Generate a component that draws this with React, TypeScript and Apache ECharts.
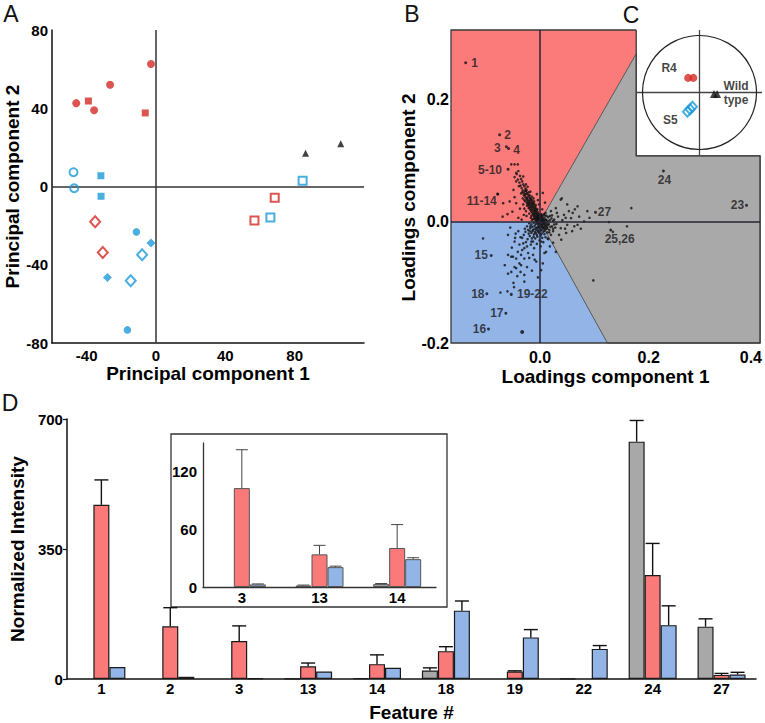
import React, { useEffect, useRef } from 'react';
import * as echarts from 'echarts';

const FONT = '"Liberation Sans", Arial, Helvetica, sans-serif';
const RED = '#d42a24';
const BLUE = '#1b9ad8';
const REGION_RED = '#fb7b7b';
const REGION_BLUE = '#93b4e6';
const REGION_GRAY = '#a9a9a9';
const BAR_GRAY = '#a8a8a8';
const BAR_RED = '#fa7a7a';
const BAR_BLUE = '#92b4e6';

// ---------- Panel A: PCA scores ----------
const pcaTicksX = [-40, 0, 40, 80];
const pcaTicksY = [-80, -40, 0, 40, 80];
const pcaRedCircle = [[-46, 42.6], [-26.5, 52], [-35.7, 39], [-2.9, 62.6]];
const pcaRedSquare = [[-39, 43.7], [-6.2, 37.6]];
const pcaBlueOpenCircle = [[-47.6, 7.3], [-47.2, -0.9]];
const pcaBlueSquare = [[-31.8, 5.5], [-31.7, -5]];
const pcaRedOpenDiamond = [[-35.1, -18], [-30.7, -33.7]];
const pcaBlueCircle = [[-11.3, -23.2], [-16.5, -73.3]];
const pcaBlueDiamond = [[-2.9, -28.9], [-28, -46.5]];
const pcaBlueOpenDiamond = [[-8, -34.9], [-14.6, -48.2]];
const pcaBlackTriangle = [[86.3, 17], [106.6, 21.9]];
const pcaBlueOpenSquare = [[84.6, 2.9], [66, -15.9]];
const pcaRedOpenSquare = [[68.5, -5.8], [56.8, -17.4]];

// ---------- Panel B: loadings ----------
const loadTicksX = [0, 0.2, 0.4];
const loadTicksY = [-0.2, 0, 0.2];
const regionRed = [[-0.164, 0], [-0.164, 0.315], [0.177, 0.315], [0.177, 0.276], [0, 0]];
const regionBlue = [[-0.164, 0], [0, 0], [0.124, -0.2], [-0.164, -0.2]];
const regionGray = [[0, 0], [0.177, 0.276], [0.177, 0.108], [0.405, 0.108], [0.405, -0.2], [0.124, -0.2]];
const loadFrame = [[0.177, 0.315], [-0.164, 0.315], [-0.164, -0.2], [0.405, -0.2], [0.405, 0.108], [0.177, 0.108], [0.177, 0.315]];

const cloudUpper = [
  [-0.043, 0.078], [-0.040, 0.083], [-0.037, 0.075], [-0.041, 0.069], [-0.035, 0.070], [-0.038, 0.064], [-0.033, 0.066],
  [-0.036, 0.059], [-0.031, 0.061], [-0.034, 0.055], [-0.029, 0.058], [-0.032, 0.051], [-0.027, 0.054], [-0.030, 0.047],
  [-0.026, 0.050], [-0.028, 0.044], [-0.024, 0.047], [-0.027, 0.040], [-0.022, 0.044], [-0.025, 0.037], [-0.021, 0.041],
  [-0.023, 0.034], [-0.019, 0.038], [-0.022, 0.031], [-0.018, 0.035], [-0.020, 0.029], [-0.016, 0.032], [-0.019, 0.026],
  [-0.015, 0.029], [-0.017, 0.023], [-0.013, 0.027], [-0.016, 0.020], [-0.012, 0.024], [-0.014, 0.018], [-0.010, 0.021],
  [-0.013, 0.015], [-0.009, 0.018], [-0.011, 0.013], [-0.007, 0.016], [-0.010, 0.010], [-0.006, 0.013], [-0.008, 0.008],
  [-0.004, 0.011], [-0.007, 0.005], [-0.003, 0.008], [-0.005, 0.003], [-0.002, 0.006], [-0.026, 0.061], [-0.033, 0.048],
  [-0.018, 0.049], [-0.039, 0.058], [-0.023, 0.057], [-0.015, 0.041], [-0.029, 0.035], [-0.011, 0.033], [-0.021, 0.022],
  [-0.044, 0.066], [-0.047, 0.073], [-0.031, 0.074], [-0.024, 0.026], [-0.008, 0.027], [-0.012, 0.038], [-0.005, 0.020],
  [-0.078, 0.045], [-0.068, 0.030], [-0.056, 0.033], [-0.044, 0.030], [-0.069, 0.008], [-0.053, 0.094], [-0.047, 0.094],
  [-0.041, 0.094], [-0.044, 0.080], [-0.049, 0.052], [-0.060, 0.012], [-0.051, 0.016], [-0.037, 0.021], [-0.047, 0.040],
  [-0.006, 0.045], [0.005, 0.047], [0.009, 0.031], [0.004, 0.020], [-0.002, 0.028], [0.007, 0.012], [0.003, 0.010],
  [-0.030, 0.011], [-0.040, 0.006], [-0.034, 0.003], [-0.025, 0.009], [-0.017, 0.006], [-0.020, 0.013], [-0.004, 0.035],
];
const cloudDense = [
  [-0.028, 0.050], [-0.025, 0.052], [-0.030, 0.043], [-0.024, 0.039], [-0.021, 0.048], [-0.026, 0.045], [-0.019, 0.043],
  [-0.023, 0.036], [-0.027, 0.033], [-0.017, 0.038], [-0.020, 0.033], [-0.024, 0.030], [-0.015, 0.035], [-0.018, 0.030],
  [-0.022, 0.027], [-0.013, 0.031], [-0.016, 0.026], [-0.020, 0.023], [-0.011, 0.029], [-0.014, 0.023], [-0.018, 0.019],
  [-0.009, 0.025], [-0.012, 0.020], [-0.016, 0.016], [-0.008, 0.022], [-0.010, 0.017], [-0.014, 0.012], [-0.006, 0.019],
  [-0.009, 0.014], [-0.012, 0.010], [-0.004, 0.015], [-0.007, 0.011], [-0.011, 0.007], [-0.003, 0.012], [-0.006, 0.008],
  [-0.009, 0.004], [-0.001, 0.010], [-0.004, 0.006], [-0.008, 0.001], [0.001, 0.006], [-0.002, 0.003], [-0.006, -0.001],
  [0.003, 0.001], [0.000, -0.003], [-0.004, -0.005], [0.005, -0.001], [0.002, -0.006], [-0.002, -0.009], [0.007, -0.004],
  [0.004, -0.009], [-0.001, -0.012], [0.009, -0.006], [0.006, -0.011], [0.001, -0.015], [-0.007, -0.010], [-0.010, -0.012],
  [0.011, -0.009], [-0.003, -0.017], [-0.008, -0.019], [0.008, -0.015], [0.012, -0.003], [0.015, -0.006], [-0.014, -0.016],
  [-0.018, -0.008], [-0.016, 0.009], [-0.013, 0.004], [0.004, 0.009], [0.006, 0.002], [0.010, 0.002], [0.013, -0.012],
  [0.003, -0.020], [-0.006, -0.022], [-0.015, -0.028], [-0.019, -0.016], [-0.028, -0.012], [-0.031, 0.028], [-0.032, 0.038],
  [-0.035, 0.046], [-0.029, 0.021], [-0.026, 0.017], [0.009, 0.010], [0.017, -0.018], [0.022, -0.008], [0.018, 0.009],
  [0.024, 0.001],
];
const cloudCore = [
  [-0.002, 0.002], [0.001, -0.001], [0.003, 0.003], [-0.004, -0.002], [0.005, -0.003], [-0.001, -0.005], [0.002, 0.005],
  [-0.006, 0.001], [0.007, 0.001], [0.004, -0.006], [-0.003, -0.008], [0.000, 0.000], [-0.008, -0.004], [0.009, -0.002],
  [0.006, 0.004], [-0.005, -0.011], [0.002, -0.010], [-0.010, -0.007], [0.011, 0.003], [0.008, -0.008], [-0.012, -0.002],
  [-0.007, -0.014], [0.003, -0.014], [0.012, -0.006], [-0.014, -0.009], [0.014, 0.001], [-0.009, -0.017], [0.006, -0.017],
  [-0.016, -0.005], [0.016, -0.004], [-0.002, -0.019], [-0.013, -0.014], [0.010, -0.013], [-0.018, -0.011], [0.001, -0.023],
  [-0.011, -0.021], [0.008, -0.021], [-0.020, -0.003], [0.019, -0.009], [-0.005, -0.025], [-0.016, -0.019], [0.004, -0.027],
  [-0.022, -0.014], [0.013, -0.018], [-0.009, -0.028], [-0.024, -0.008], [0.017, -0.014], [-0.019, -0.024], [-0.001, -0.031],
  [-0.027, -0.017], [0.010, -0.026], [-0.013, -0.033], [-0.023, -0.029], [0.006, -0.034], [-0.030, -0.022], [-0.006, -0.037],
  [0.015, -0.029], [-0.017, -0.038], [-0.026, -0.034], [0.001, -0.041], [-0.033, -0.027], [-0.011, -0.044], [0.020, -0.022],
  [0.024, -0.012], [0.021, 0.005], [0.026, -0.005], [-0.003, 0.004], [0.004, 0.007], [-0.006, 0.006], [0.008, 0.006],
  [0.012, 0.009], [0.002, 0.012], [-0.001, 0.009], [0.015, 0.007], [0.018, 0.002], [0.010, 0.014], [-0.015, 0.002],
  [-0.010, 0.004], [0.013, -0.010], [-0.004, -0.015], [0.007, -0.011], [-0.012, -0.025], [-0.021, -0.020],
];
const cloudLower = [
  [-0.059, -0.022], [-0.047, -0.033], [-0.041, -0.050], [-0.053, -0.058], [-0.029, -0.044], [-0.016, -0.033], [-0.035, -0.072],
  [-0.044, -0.077], [0.002, -0.033], [0.014, -0.028], [0.029, -0.050], [0.011, -0.050], [-0.010, -0.063], [-0.059, -0.055],
  [-0.050, -0.058], [-0.044, -0.061], [-0.035, -0.055], [-0.029, -0.061], [-0.038, -0.069], [-0.047, -0.075], [-0.059, -0.086],
  [-0.053, -0.083], [-0.029, -0.088], [-0.029, -0.099], [-0.007, -0.066], [0.005, -0.069], [0.008, -0.052], [-0.065, -0.072],
  [-0.105, -0.028], [-0.046, -0.027], [-0.038, -0.038], [-0.052, -0.043], [-0.033, -0.047], [-0.022, -0.052], [-0.042, -0.090],
  [-0.036, -0.083], [-0.049, -0.101], [-0.024, -0.075], [-0.015, -0.081], [-0.004, -0.092], [-0.040, -0.016], [-0.036, -0.026],
  [-0.024, -0.041], [-0.031, -0.036], [-0.045, -0.020], [-0.055, -0.010], [0.018, -0.041], [0.024, -0.035], [-0.020, -0.060],
  [-0.013, -0.055], [0.002, -0.080], [-0.073, -0.117], [-0.060, -0.115], [-0.048, -0.108],
];
const cloudRight = [
  [0.020, 0.017], [0.029, 0.022], [0.038, 0.036], [0.050, 0.028], [0.044, 0.011], [0.057, 0.0055], [0.069, -0.0055],
  [0.050, -0.0055], [0.038, -0.011], [0.060, 0.014], [0.063, -0.008], [0.081, 0.000], [0.035, -0.022], [0.048, -0.019],
  [0.026, 0.003], [0.087, 0.017], [0.091, 0.006], [0.127, -0.001], [0.134, -0.017], [0.160, -0.008], [0.168, 0.022],
  [0.069, 0.025], [0.098, -0.097], [0.040, 0.038], [0.033, 0.008], [0.041, 0.002], [0.030, -0.004], [0.053, 0.017],
  [0.046, -0.012], [0.059, -0.016], [0.072, 0.008], [0.031, 0.014], [0.024, -0.016], [0.039, -0.030], [0.047, 0.006],
  [0.064, 0.020], [0.075, -0.012], [0.022, 0.010], [0.028, -0.010],
];
const cloudBig = [[-0.033, -0.182]];
const loadLabelText = ['1', '2', '3', '4', '5-10', '11-14', '15', '18', '19-22', '17', '16', '27', '25,26', '23', '24'];
const loadLabelPts = [
  [-0.137, 0.261], [-0.0745, 0.1425], [-0.062, 0.123], [-0.058, 0.120], [-0.059, 0.086], [-0.078, 0.045], [-0.09, -0.056],
  [-0.098, -0.119], [-0.053, -0.12], [-0.063, -0.151], [-0.095, -0.177], [0.102, 0.015], [0.13, -0.014], [0.38, 0.0265], [0.227, 0.083],
];
const loadLabelOffset = [
  [9, 0], [8, 0], [-9, 1], [8, 1], [-18, 1], [-16, 7], [-10, 0], [-9, 0], [21, 0], [-9, 0], [-9, 0], [9, 0], [9, 9], [-9, 0], [1, 9],
];

// ---------- Panel C: inset PCA ----------
const pcTicks = [-200, 200];
const pcCircleR = 260;
const pcR4 = [[-52, 53], [-28, 53]];
const pcS5 = [[-55, -70], [-43, -61], [-32, -52]];
const pcWT = [[66, -5], [80, -5]];

// ---------- Panel D: bars ----------
const features = ['1', '2', '3', '13', '14', '18', '19', '22', '24', '27'];
const grayMean = [null, null, null, 1, 2, 23, null, 1, 639, 141];
const grayErr = [0, 0, 0, 0, 0, 7, 0, 0, 57, 21];
const redMean = [469, 142, 102, 34, 40, 75, 20, null, 280, 11];
const redErr = [67, 50, 41, 9, 25, 12, 2, 0, 85, 4];
const blueMean = [32, 6, 1.5, 20, 30, 184, 112, 81, 145, 12];
const blueErr = [0, 0, 0, 0, 0, 26, 21, 9, 52, 6];

const insetFeatures = ['3', '13', '14'];
const insetGray = [null, 1.5, 3];
const insetGrayErr = [0, 0.5, 0.6];
const insetRed = [103, 34, 40.6];
const insetRedErr = [40, 9.4, 24.4];
const insetBlue = [2.7, 20.7, 29];
const insetBlueErr = [0.5, 1, 1.5];

const bold = { fontFamily: FONT, fontWeight: 'bold' as const, color: '#000' };

function errData(groups: { mean: (number | null)[]; err: number[] }[]) {
  const out: number[][] = [];
  groups.forEach((g, gi) => {
    g.mean.forEach((m, i) => {
      if (m != null && g.err[i] > 0) out.push([i, gi, m, g.err[i]]);
    });
  });
  return out;
}

function errSeries(axis: number, data: number[][], color: string, width: number, cap: number) {
  return {
    type: 'custom',
    xAxisIndex: axis,
    yAxisIndex: axis,
    z: 5,
    silent: true,
    encode: { x: 0, y: 2 },
    data,
    renderItem: (_p: any, api: any) => {
      const i = api.value(0), g = api.value(1), m = api.value(2), e = api.value(3);
      const b = api.coord([i, m]);
      const t = api.coord([i, m + e]);
      const x = b[0] + (g - 1) * 16;
      return {
        type: 'group',
        children: [
          { type: 'line', shape: { x1: x, y1: b[1], x2: x, y2: t[1] }, style: { stroke: color, lineWidth: width } },
          { type: 'line', shape: { x1: x - cap, y1: t[1], x2: x + cap, y2: t[1] }, style: { stroke: color, lineWidth: width } },
        ],
      };
    },
  };
}

function scat(data: number[][], symbol: string, size: any, color: string, hollow: boolean, axis: number, extra: any = {}) {
  return {
    type: 'scatter',
    xAxisIndex: axis,
    yAxisIndex: axis,
    data,
    symbol,
    symbolSize: size,
    silent: true,
    z: 6,
    itemStyle: hollow ? { color: 'rgba(0,0,0,0)', borderColor: color, borderWidth: 2 } : { color },
    ...extra,
  };
}

function buildOption() {
  const regions = [
    { pts: regionRed, fill: REGION_RED, stroke: 'none' },
    { pts: regionBlue, fill: REGION_BLUE, stroke: 'none' },
    { pts: regionGray, fill: REGION_GRAY, stroke: '#555' },
  ];
  const valAxisBase = {
    type: 'value',
    axisTick: { show: false },
    splitLine: { show: false },
  };
  return {
    animation: false,
    backgroundColor: '#fff',
    grid: [
      { left: 52, top: 30, width: 312, height: 313 },
      { left: 451, top: 30, width: 311, height: 313 },
      { left: 637, top: 30, width: 125, height: 125 },
      { left: 53, top: 419, width: 703, height: 260 },
      { left: 203, top: 443, width: 233, height: 144 },
    ],
    xAxis: [
      {
        ...valAxisBase, gridIndex: 0, min: -60, max: 120,
        axisLine: { show: true, onZero: false, lineStyle: { color: '#111', width: 1.5 } },
        axisLabel: { ...bold, customValues: pcaTicksX, fontSize: 15, margin: 5 },
        name: 'Principal component 1', nameLocation: 'middle', nameGap: 21,
        nameTextStyle: { ...bold, fontSize: 19 },
      },
      {
        ...valAxisBase, gridIndex: 1, min: -0.164, max: 0.405,
        axisLine: { show: false, onZero: false },
        axisLabel: {
          ...bold, customValues: loadTicksX, fontSize: 16, margin: 6,
          formatter: (v: number) => (v > 0.3 ? '{r|' + v.toFixed(1) + '}' : v.toFixed(1)),
          rich: { r: { ...bold, fontSize: 16, padding: [0, 13, 0, 0] } },
        },
        name: 'Loadings component 1', nameLocation: 'middle', nameGap: 24,
        nameTextStyle: { ...bold, fontSize: 19 },
      },
      {
        ...valAxisBase, gridIndex: 2, min: -285, max: 285,
        axisLine: { show: false, onZero: false },
        axisLabel: { ...bold, customValues: pcTicks, fontSize: 12, margin: 2 },
        name: 'PC 1', nameLocation: 'middle', nameGap: 5,
        nameTextStyle: { ...bold, fontSize: 14 },
      },
      {
        type: 'category', gridIndex: 3, data: features,
        axisLine: { show: true, lineStyle: { color: '#111', width: 1.5 } },
        axisTick: { show: false },
        axisLabel: { ...bold, fontSize: 15, margin: 2, interval: 0 },
        name: 'Feature #', nameLocation: 'middle', nameGap: 24,
        nameTextStyle: { ...bold, fontSize: 19 },
      },
      {
        type: 'category', gridIndex: 4, data: insetFeatures,
        axisLine: { show: true, lineStyle: { color: '#333', width: 1.3 } },
        axisTick: { show: false },
        axisLabel: { ...bold, fontSize: 15, margin: 3, interval: 0 },
      },
    ],
    yAxis: [
      {
        ...valAxisBase, gridIndex: 0, min: -80, max: 80,
        axisLine: { show: true, onZero: false, lineStyle: { color: '#111', width: 1.5 } },
        axisLabel: { ...bold, customValues: pcaTicksY, fontSize: 15, margin: 4 },
        name: 'Principal component 2', nameLocation: 'middle', nameGap: 28,
        nameTextStyle: { ...bold, fontSize: 19 },
      },
      {
        ...valAxisBase, gridIndex: 1, min: -0.2, max: 0.315,
        axisLine: { show: false, onZero: false },
        axisLabel: { ...bold, customValues: loadTicksY, fontSize: 16, margin: 2, formatter: (v: number) => v.toFixed(1) },
        name: 'Loadings component 2', nameLocation: 'middle', nameGap: 30,
        nameTextStyle: { ...bold, fontSize: 19, padding: [0, 22, 0, 0] },
      },
      {
        ...valAxisBase, gridIndex: 2, min: -227, max: 227,
        axisLine: { show: false, onZero: false },
        axisLabel: { ...bold, customValues: pcTicks, fontSize: 12, margin: 4 },
        name: 'PC 2', nameLocation: 'middle', nameGap: 4,
        nameTextStyle: { ...bold, fontSize: 14 },
      },
      {
        type: 'value', gridIndex: 3, min: 0, max: 700, interval: 350,
        splitLine: { show: false },
        axisLine: { show: true, lineStyle: { color: '#111', width: 1.5 } },
        axisTick: { show: true, length: 4, lineStyle: { color: '#111', width: 1.2 } },
        axisLabel: { ...bold, fontSize: 15, margin: 4 },
        name: 'Normalized Intensity', nameLocation: 'middle', nameGap: 32,
        nameTextStyle: { ...bold, fontSize: 19 },
      },
      {
        ...valAxisBase, gridIndex: 4, min: 0, max: 150,
        axisLine: { show: true, lineStyle: { color: '#333', width: 1.3 } },
        axisLabel: { ...bold, customValues: [0, 60, 120], fontSize: 15, margin: 6 },
      },
    ],
    series: [
      // ---- A ----
      scat(pcaRedCircle, 'circle', 8, RED, false, 0, {
        markLine: {
          silent: true, symbol: ['none', 'none'], label: { show: false },
          lineStyle: { color: '#333', width: 1.5, type: 'solid' },
          data: [{ xAxis: 0 }, { yAxis: 0 }],
        },
      }),
      scat(pcaRedSquare, 'rect', 7, RED, false, 0),
      scat(pcaBlueOpenCircle, 'circle', 8, BLUE, true, 0),
      scat(pcaBlueSquare, 'rect', 7, BLUE, false, 0),
      scat(pcaRedOpenDiamond, 'diamond', [10, 11], RED, true, 0),
      scat(pcaBlueCircle, 'circle', 7.5, BLUE, false, 0),
      scat(pcaBlueDiamond, 'diamond', [9, 9], BLUE, false, 0),
      scat(pcaBlueOpenDiamond, 'diamond', [10, 11], BLUE, true, 0),
      scat(pcaBlackTriangle, 'triangle', 7, '#111', false, 0),
      scat(pcaBlueOpenSquare, 'rect', 8, BLUE, true, 0),
      scat(pcaRedOpenSquare, 'rect', 8, RED, true, 0),
      // ---- B ----
      {
        type: 'custom', xAxisIndex: 1, yAxisIndex: 1, z: 1, silent: true,
        data: regions.map(() => [0, 0]),
        renderItem: (p: any, api: any) => {
          const r = regions[p.dataIndex];
          return {
            type: 'polygon',
            shape: { points: r.pts.map((q) => api.coord(q)) },
            style: { fill: r.fill, stroke: r.stroke, lineWidth: 1 },
          };
        },
      },
      {
        type: 'custom', xAxisIndex: 1, yAxisIndex: 1, z: 3, silent: true,
        data: [[0, 0]],
        renderItem: (_p: any, api: any) => ({
          type: 'polyline',
          shape: { points: loadFrame.map((q) => api.coord(q)) },
          style: { fill: 'none', stroke: '#3a3a3a', lineWidth: 1.3 },
        }),
        markLine: {
          silent: true, symbol: ['none', 'none'], label: { show: false },
          lineStyle: { color: '#252535', width: 1.5, type: 'solid' },
          data: [{ xAxis: 0 }, { yAxis: 0 }],
        },
      },
      scat([...cloudUpper, ...cloudDense, ...cloudCore, ...cloudLower, ...cloudRight], 'circle', 2.6, '#111', false, 1, { z: 4 }),
      scat(cloudBig, 'circle', 4, '#111', false, 1, { z: 4 }),
      {
        type: 'scatter', xAxisIndex: 1, yAxisIndex: 1, z: 4, silent: true,
        symbol: 'circle', symbolSize: 3, itemStyle: { color: '#111' },
        data: loadLabelPts.map((pt, i) => ({
          value: pt,
          label: {
            show: true, position: 'inside', formatter: loadLabelText[i], offset: loadLabelOffset[i],
            fontFamily: FONT, fontWeight: 'bold', fontSize: 12, color: '#1a1a1a',
          },
        })),
      },
      // ---- C ----
      {
        type: 'custom', xAxisIndex: 2, yAxisIndex: 2, z: 5, silent: true,
        data: [[0, 0]],
        renderItem: (_p: any, api: any) => {
          const c = api.coord([0, 0]);
          const r = api.size([pcCircleR, 0])[0];
          return { type: 'circle', shape: { cx: c[0], cy: c[1], r }, style: { fill: 'none', stroke: '#222', lineWidth: 1.2 } };
        },
        markLine: {
          silent: true, symbol: ['none', 'none'], label: { show: false },
          lineStyle: { color: '#444', width: 1.3, type: 'solid' },
          data: [{ xAxis: 0 }, { yAxis: 0 }],
        },
      },
      scat([], 'circle', 8, RED, false, 2, {
        data: pcR4.map((pt, i) => ({
          value: pt,
          label: i === 0 ? { show: true, position: 'inside', formatter: 'R4', offset: [-19, -10], fontFamily: FONT, fontWeight: 'bold', fontSize: 12, color: '#111' } : { show: false },
        })),
      }),
      scat([], 'diamond', [9, 10], BLUE, true, 2, {
        data: pcS5.map((pt, i) => ({
          value: pt,
          label: i === 0 ? { show: true, position: 'inside', formatter: 'S5', offset: [-17, 8], fontFamily: FONT, fontWeight: 'bold', fontSize: 12, color: '#111' } : { show: false },
        })),
      }),
      scat([], 'triangle', 8, '#111', false, 2, {
        data: pcWT.map((pt, i) => ({
          value: pt,
          label: i === 1 ? { show: true, position: 'inside', formatter: 'Wild\ntype', offset: [19, -1], align: 'center', lineHeight: 14, fontFamily: FONT, fontWeight: 'bold', fontSize: 12, color: '#111' } : { show: false },
        })),
      }),
      // ---- D ----
      ...[
        { d: grayMean, c: BAR_GRAY },
        { d: redMean, c: BAR_RED },
        { d: blueMean, c: BAR_BLUE },
      ].map((s) => ({
        type: 'bar', xAxisIndex: 3, yAxisIndex: 3, data: s.d, barWidth: 16, barGap: '0%', silent: true,
        itemStyle: { color: s.c, borderColor: '#1a1a1a', borderWidth: 1.2 },
      })),
      errSeries(3, errData([
        { mean: grayMean, err: grayErr },
        { mean: redMean, err: redErr },
        { mean: blueMean, err: blueErr },
      ]), '#111', 1.4, 7),
      ...[
        { d: insetGray, c: BAR_GRAY },
        { d: insetRed, c: BAR_RED },
        { d: insetBlue, c: BAR_BLUE },
      ].map((s) => ({
        type: 'bar', xAxisIndex: 4, yAxisIndex: 4, data: s.d, barWidth: 16, barGap: '0%', silent: true,
        itemStyle: { color: s.c, borderColor: '#555', borderWidth: 1 },
      })),
      errSeries(4, errData([
        { mean: insetGray, err: insetGrayErr },
        { mean: insetRed, err: insetRedErr },
        { mean: insetBlue, err: insetBlueErr },
      ]), '#444', 1, 6),
    ],
    graphic: [
      ...[
        { t: 'A', x: 11, y: 14 },
        { t: 'B', x: 412, y: 14 },
        { t: 'C', x: 631, y: 15 },
        { t: 'D', x: 10, y: 403 },
      ].map((l) => ({
        type: 'text', x: l.x, y: l.y, silent: true,
        style: { text: l.t, fontSize: 23, fontFamily: FONT, fill: '#111', align: 'center', verticalAlign: 'middle', textAlign: 'center', textVerticalAlign: 'middle' },
      })),
      {
        type: 'rect', silent: true, z: 0,
        shape: { x: 171, y: 434, width: 276, height: 173 },
        style: { fill: 'none', stroke: '#333', lineWidth: 1.3 },
      },
    ],
  };
}

export default function App() {
  const ref = useRef<HTMLDivElement>(null);
  useEffect(() => {
    const chart = echarts.init(ref.current!, null, { renderer: 'svg' });
    chart.setOption(buildOption() as any);
    return () => chart.dispose();
  }, []);
  return <div ref={ref} style={{ position: 'absolute', left: 0, top: 0, width: 765, height: 723 }} />;
}
